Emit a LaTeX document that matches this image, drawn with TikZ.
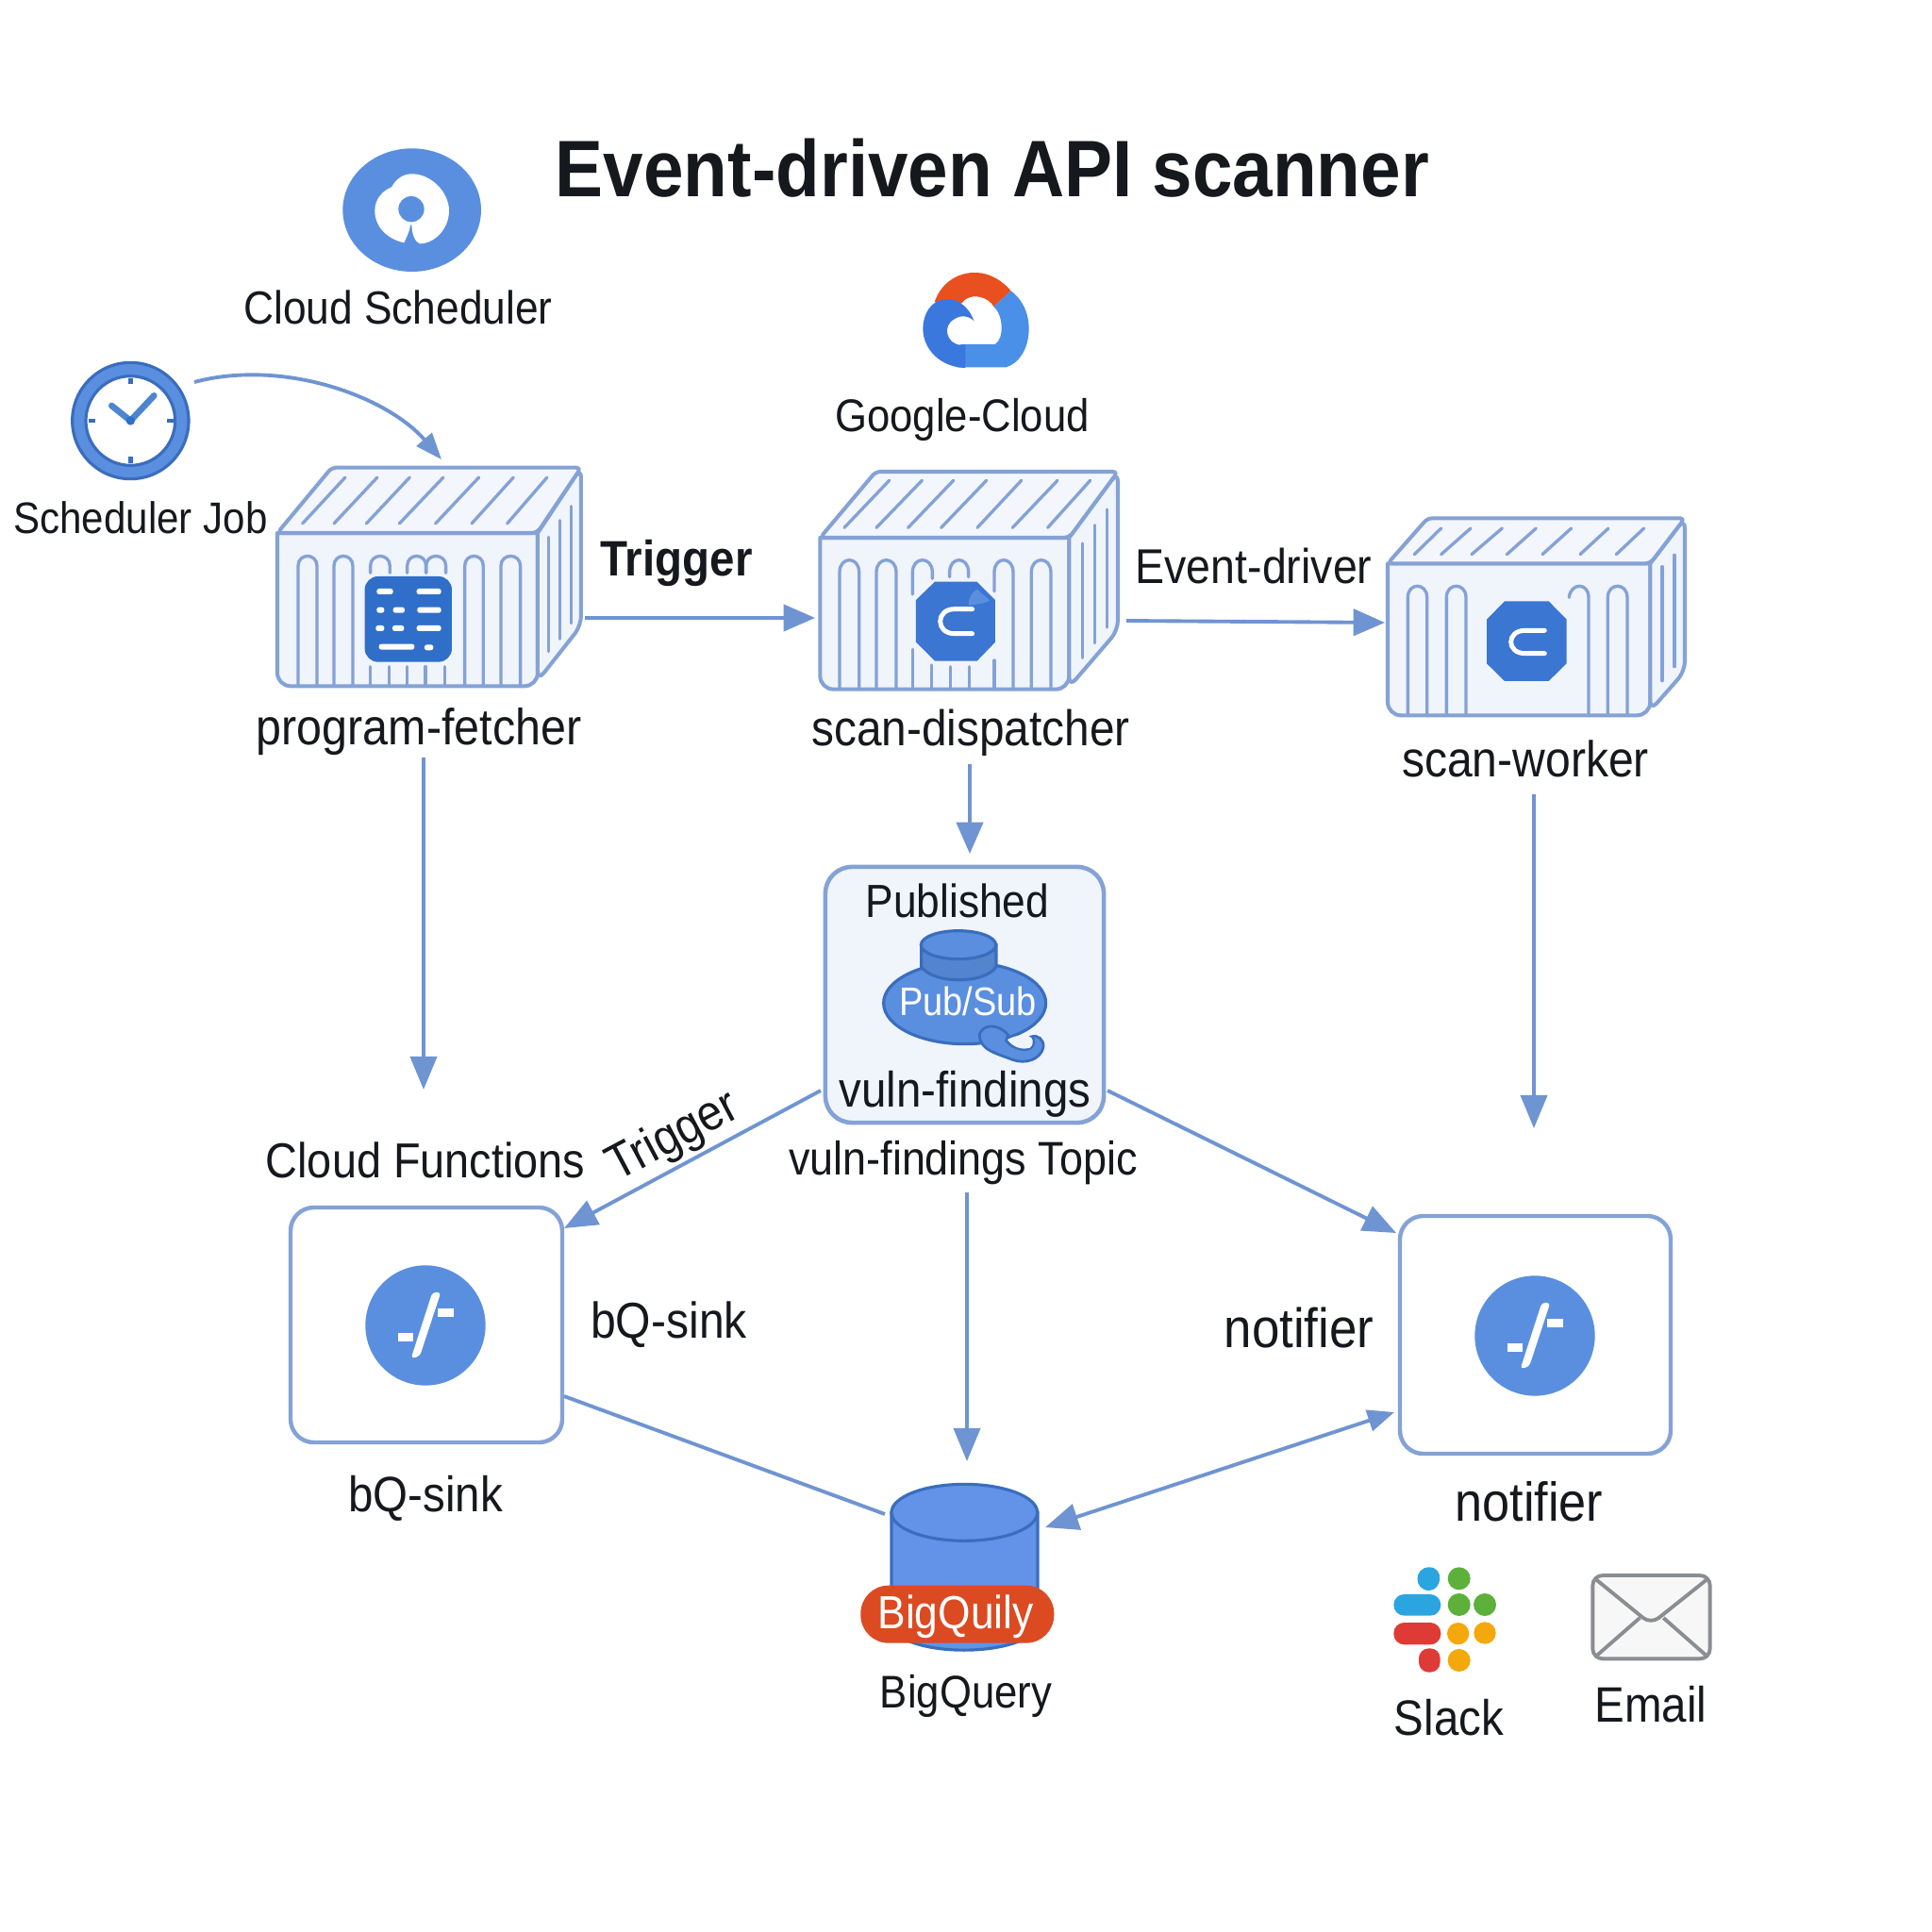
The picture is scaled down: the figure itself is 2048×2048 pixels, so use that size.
\documentclass[tikz,border=0pt]{standalone}
\usepackage{fontspec}
\setmainfont[FakeStretch=0.9]{Liberation Sans}
\usetikzlibrary{arrows.meta}
\definecolor{edge}{HTML}{84A2D6}
\definecolor{arrowc}{HTML}{6F94D2}
\definecolor{paneb}{HTML}{F0F4FB}
\definecolor{topb}{HTML}{F3F6FC}
\definecolor{iconb}{HTML}{2F6FC9}
\definecolor{octb}{HTML}{3A76D2}
\definecolor{midb}{HTML}{5A8FE0}
\definecolor{cylb}{HTML}{6293E8}
\definecolor{darkb}{HTML}{3A6DBD}
\definecolor{gblue}{HTML}{3B78DD}
\definecolor{glight}{HTML}{4A8FE8}
\definecolor{gred}{HTML}{E8501F}
\definecolor{pill}{HTML}{DC4A22}
\definecolor{txtc}{HTML}{15181C}
\definecolor{sblue}{HTML}{2AA5E0}
\definecolor{sgreen}{HTML}{5DB03A}
\definecolor{sred}{HTML}{DF3B36}
\definecolor{sorange}{HTML}{F5A80C}
\definecolor{mailg}{HTML}{8A8D91}
\newcommand{\fsz}[1]{\fontsize{#1}{#1}\selectfont}
\tikzset{
  boxline/.style={draw=edge,line width=1.15pt,line join=round},
  thinl/.style={draw=edge,line width=0.95pt,line cap=round},
  conn/.style={draw=arrowc,line width=1.1pt,-{Triangle[length=10pt,width=8pt]}},
  connh/.style={draw=arrowc,line width=1.1pt,-{Triangle[length=9.5pt,width=8pt]}},
  connc/.style={draw=arrowc,line width=1.1pt,-{Triangle[length=8pt,width=6pt]}},
  lbl/.style={inner sep=0pt,text=txtc,font=\fsz{15}},
  cardbox/.style={draw=edge,line width=1.25pt,fill=white,rounded corners=7pt},
  pubbox/.style={draw=edge,line width=1.3pt,fill=paneb,rounded corners=8pt,minimum width=2.95cm,minimum height=2.71cm,inner sep=0pt}
}
\begin{document}
\begin{tikzpicture}[x=0.01cm,y=-0.01cm]
\useasboundingbox (0,0) rectangle (2048,2048);
\fill[white] (0,0) rectangle (2048,2048);

% title
\node[lbl,font=\fsz{24.15}\bfseries] (title) at (1052,178) {Event-driven API scanner};

% cloud scheduler icon
\begin{scope}[shift={(340,140)},scale=0.3333]
  \fill[midb] (290,248) ellipse [x radius=220,y radius=196];
  \fill[white] (265,352) .. controls (210,340) and (172,300) .. (172,250) .. controls (172,210) and (200,185) .. (225,175) .. controls (240,150) and (260,133) .. (290,133) .. controls (350,133) and (408,190) .. (408,250) .. controls (408,310) and (360,355) .. (315,355) .. controls (300,350) and (290,325) .. (289,295) -- (285,295) .. controls (282,320) and (272,335) .. (265,352) -- cycle;
  \fill[midb] (288,245) circle [radius=41];
\end{scope}
\node[lbl,font=\fsz{14}] (cloudsched) at (422,326) {Cloud Scheduler};

% google cloud icon
\begin{scope}[shift={(960,270)},scale=0.3333]
  \fill[gred] (92,150) .. controls (115,85) and (170,55) .. (225,57) .. controls (270,58) and (310,85) .. (335,115) -- (280,165) .. controls (265,135) and (205,115) .. (178,155) -- cycle;
  \fill[glight] (335,115) .. controls (375,145) and (392,190) .. (392,235) .. controls (392,300) and (360,345) .. (320,358) -- (165,358) -- (175,285) -- (285,285) .. controls (315,265) and (310,190) .. (280,165) -- cycle;
  \fill[gblue] (218,212) .. controls (195,150) and (150,138) .. (125,142) .. controls (80,145) and (55,190) .. (55,235) .. controls (55,300) and (110,358) .. (190,360) -- (190,285) -- (175,287) .. controls (130,285) and (115,225) .. (155,205) .. controls (175,190) and (205,195) .. (218,212) -- cycle;
\end{scope}
\node[lbl,font=\fsz{13.8}] (gcloud) at (1020,445) {Google-Cloud};

% clock
\begin{scope}[shift={(60,370)},scale=0.3333]
  \draw[draw=darkb,line width=0.9pt,fill=midb] (235,228) circle [radius=185];
  \draw[draw=darkb,line width=0.9pt,fill=white] (235,228) circle [radius=142];
  \draw[draw=darkb,line width=1.3pt] (235,92) -- (235,112) (235,342) -- (235,362) (102,228) -- (124,228) (352,228) -- (374,228);
  \draw[draw=iconb!85!white,line width=1.9pt,line cap=round,line join=round] (175,180) -- (235,228) -- (310,148);
  \fill[iconb] (235,228) circle [radius=14];
\end{scope}
\coordinate (clockE) at (206,405);
\node[lbl,font=\fsz{13.3}] (schedjob) at (149,549) {Scheduler Job};

% container 1
\begin{scope}[shift={(280,480)},scale=0.3333]
  \draw[boxline,fill=paneb] (42,255) {[rounded corners=4pt] -- (42,742) -- (870,742) -- (870,500)} -- (870,255) -- cycle;
  \draw[boxline,fill=paneb] (870,255) {[rounded corners=3pt] -- (1008,47) -- (1008,550) -- (870,725)} -- cycle;
  \draw[boxline,fill=topb,rounded corners=1.4pt] (42,255) -- (215,47) -- (1008,47) -- (868,255) -- cycle;
  \foreach \a/\b in {122/258,222/360,325/463,430/570,545/683,660/793,773/900}
    \draw[thinl] (\a,225) -- (\b,78);
  \draw[thinl] (905,268) -- (905,632);
  \draw[thinl] (940,215) -- (940,592);
  \draw[thinl] (977,170) -- (977,542);
  \foreach \a/\b in {108/168,222/282,638/697,753/815}
    \draw[thinl] (\a,738) -- (\a,360) .. controls (\a,318) and (\b,318) .. (\b,360) -- (\b,738);
  \foreach \a/\b in {338/400,455/515,515/578}
    \draw[thinl] (\a,382) -- (\a,360) .. controls (\a,318) and (\b,318) .. (\b,360) -- (\b,382);
  \foreach \a in {338,398,455,513,575}
    \draw[thinl] (\a,680) -- (\a,738);
  \fill[iconb,rounded corners=4pt] (320,393) rectangle (597,665);
  \foreach \a/\b/\y in {358/410/441,485/563/441,358/382/500,410/447/500,487/563/500,355/382/558,408/445/558,485/563/558,365/478/617,510/538/619}
    \fill[white,rounded corners=0.7pt] (\a,\y-9) rectangle (\b,\y+9);
\end{scope}
\coordinate (fetcherN) at (468,487);
\coordinate (fetcherE) at (620,655);
\coordinate (fetcherS) at (449,803);

% container 2
\begin{scope}[shift={(860,490)},scale=0.3333]
  \draw[boxline,fill=paneb] (28,240) {[rounded corners=4pt] -- (28,722) -- (820,722) -- (820,500)} -- (820,240) -- cycle;
  \draw[boxline,fill=paneb] (820,240) {[rounded corners=3pt] -- (975,30) -- (975,535) -- (820,715)} -- cycle;
  \draw[boxline,fill=topb,rounded corners=1.4pt] (28,240) -- (205,30) -- (975,30) -- (820,240) -- cycle;
  \foreach \a/\b/\c in {105/208/248,207/208/352,308/208/452,413/208/557,528/208/668,640/208/783,752/208/887}
    \draw[thinl] (\a,\b) -- (\c,58);
  \draw[thinl] (863,258) -- (863,622);
  \draw[thinl] (902,200) -- (902,575);
  \draw[thinl] (940,150) -- (940,525);
  \foreach \a/\b in {90/152,207/270,700/762}
    \draw[thinl] (\a,718) -- (\a,350) .. controls (\a,298) and (\b,298) .. (\b,350) -- (\b,718);
  \draw[thinl] (322,420) -- (322,350) .. controls (322,298) and (385,298) .. (385,350) -- (385,370);
  \draw[thinl] (440,365) -- (440,350) .. controls (440,298) and (500,298) .. (500,350) -- (500,365);
  \draw[thinl] (582,410) -- (582,350) .. controls (582,298) and (642,298) .. (642,350) -- (642,718);
  \foreach \a/\s in {322/595,382/645,442/650,502/650,582/630}
    \draw[thinl] (\a,\s) -- (\a,718);
  \fill[octb] (393,380) -- (527,380) -- (585,438) -- (585,572) -- (527,632) -- (393,632) -- (333,572) -- (333,438) -- cycle;
  \fill[midb] (527,404) -- (568,440) .. controls (560,445) and (520,455) .. (500,455) .. controls (500,430) and (510,415) .. (527,404) -- cycle;
  \draw[white,line width=1.4pt,line cap=round] (512,467) -- (455,467) .. controls (395,467) and (395,545) .. (455,545) -- (512,545);
\end{scope}
\coordinate (dispW) at (864,655);
\coordinate (dispE) at (1194,658);
\coordinate (dispS) at (1028,810);

% container 3
\begin{scope}[shift={(1460,540)},scale=0.3333]
  \draw[boxline,fill=paneb] (33,172) {[rounded corners=4pt] -- (33,655) -- (868,655) -- (868,450)} -- (868,172) -- cycle;
  \draw[boxline,fill=paneb] (868,172) {[rounded corners=3pt] -- (978,28) -- (978,515) -- (868,640)} -- cycle;
  \draw[boxline,fill=topb,rounded corners=1.4pt] (33,172) -- (160,28) -- (978,28) -- (868,172) -- cycle;
  \foreach \a/\b in {118/203,203/297,300/397,412/505,525/617,645/735,760/848}
    \draw[thinl] (\a,143) -- (\b,60);
  \draw[thinl] (906,182) -- (906,545);
  \draw[thinl] (945,145) -- (945,500);
  \foreach \a/\b in {97/158,220/282,733/795}
    \draw[thinl] (\a,650) -- (\a,280) .. controls (\a,232) and (\b,232) .. (\b,280) -- (\b,650);
  \draw[thinl] (610,280) .. controls (615,232) and (672,232) .. (672,280) -- (672,650);
  \fill[octb] (405,292) -- (545,292) -- (602,350) -- (602,490) -- (545,546) -- (405,546) -- (348,490) -- (348,350) -- cycle;
  \draw[white,line width=1.4pt,line cap=round] (532,385) -- (470,385) .. controls (410,385) and (410,458) .. (470,458) -- (532,458);
\end{scope}
\coordinate (workerW) at (1468,660);
\coordinate (workerS) at (1626,842);

% container labels
\node[lbl,font=\fsz{15.3}] (fetcherl) at (444,776) {program-fetcher};
\node[lbl,font=\fsz{15.1}] (displ) at (1029,777) {scan-dispatcher};
\node[lbl,font=\fsz{15.2}] (workerl) at (1617,804) {scan-worker};

% pub/sub
\node[pubbox] (pub) at (1022.5,1054.5) {};
\begin{scope}[shift={(850,900)},scale=0.3333]
  \draw[draw=darkb,line width=0.9pt,fill=midb] (518,490) ellipse [x radius=258,y radius=130];
  \draw[draw=darkb,line width=0.9pt,fill=midb!92!black] (380,305) -- (380,375) .. controls (420,430) and (580,430) .. (618,375) -- (618,305) -- cycle;
  \draw[draw=darkb,line width=0.9pt,fill=midb] (498,305) ellipse [x radius=119,y radius=45];
  \draw[draw=darkb,line width=0.8pt,fill=midb] (565,590) .. controls (575,555) and (625,555) .. (655,590) -- (650,610) .. controls (670,635) and (720,650) .. (735,625) .. controls (740,610) and (735,600) .. (730,597) .. controls (750,590) and (770,605) .. (768,630) .. controls (760,670) and (710,685) .. (670,670) .. controls (620,650) and (565,640) .. (565,590) -- cycle;
  \fill[paneb] (655,606) .. controls (680,590) and (715,590) .. (730,600) .. controls (738,610) and (735,625) .. (725,632) .. controls (700,640) and (670,630) .. (655,606) -- cycle;
\end{scope}
\node[lbl,font=\fsz{14}] (publ) at (1015,955) {Published};
\node[lbl,text=white,font=\fsz{12}] (pubsubl) at (1026,1061) {Pub/Sub};
\node[lbl,font=\fsz{15}] (vulnl) at (1023,1160) {vuln-findings};
\node[lbl,font=\fsz{14.2}] (vulnt) at (1021,1233) {vuln-findings Topic};
\coordinate (pubS) at (1028,905);
\coordinate (pubW) at (870,1156);
\coordinate (pubE) at (1174,1156);
\coordinate (pubB) at (1025,1264);

% function boxes
\draw[cardbox] (308,1280) rectangle (596,1529);
\draw[cardbox] (1484,1289) rectangle (1771,1541);
\foreach \sx/\sy in {370/1319.3,1546/1330.3}{
  \begin{scope}[shift={(\sx,\sy)},scale=0.3333]
    \fill[midb] (243,257) circle [radius=191];
    \fill[white,rounded corners=1pt] (265,152) -- (292,152) -- (225,355) -- (197,362) -- cycle;
    \fill[white] (155,280) rectangle (205,307);
    \fill[white] (283,203) rectangle (332,230);
  \end{scope}
}
\coordinate (sinkNE) at (598,1302);
\coordinate (sinkE) at (598,1480);
\coordinate (notifNW) at (1480,1307);
\coordinate (notifW) at (1478,1497);
\coordinate (fnIn) at (449,1155);
\coordinate (notifIn) at (1626,1196);
\node[lbl,font=\fsz{14.8}] (cfl) at (451,1230) {Cloud Functions};
\node[lbl,rotate=28,font=\fsz{15}] (trig2) at (714,1206) {Trigger};
\node[lbl,font=\fsz{15.2}] (sinka) at (709,1404) {bQ-sink};
\node[lbl,font=\fsz{16.7}] (notifa) at (1377,1407) {notifier};
\node[lbl,font=\fsz{15}] (sinkb) at (451,1588) {bQ-sink};
\node[lbl,font=\fsz{16.5}] (notifb) at (1621,1592) {notifier};

% bigquery
\begin{scope}[shift={(900,1560)},scale=0.3333]
  \draw[draw=darkb,line width=0.9pt,fill=cylb] (135,130) -- (135,500) .. controls (200,590) and (530,590) .. (600,500) -- (600,130) -- cycle;
  \draw[draw=darkb,line width=0.9pt,fill=cylb] (367,130) ellipse [x radius=232,y radius=90];
  \fill[pill,rounded corners=8.4pt] (37,362) rectangle (652,545);
\end{scope}
\node[lbl,text=white,font=\fsz{14}] (bqpill) at (1013,1714) {BigQuily};
\node[lbl,font=\fsz{13.8}] (bql) at (1024,1798) {BigQuery};
\coordinate (bqW) at (938,1605);
\coordinate (bqE) at (1108,1619);
\coordinate (bqN) at (1025,1549);

% slack
\begin{scope}[shift={(1450,1640)},scale=0.3333]
  \fill[sblue] (195,64) .. controls (245,64) and (235,138) .. (195,138) .. controls (145,138) and (145,64) .. (195,64) -- cycle;
  \fill[sblue,rounded corners=3.2pt] (82,150) rectangle (232,218);
  \fill[sgreen] (290,100) circle [radius=36] (290,183) circle [radius=36] (372,183) circle [radius=36];
  \fill[sred,rounded corners=3.2pt] (82,240) rectangle (232,310);
  \fill[sred,rounded corners=3pt] (162,322) rectangle (230,398);
  \fill[sorange] (287,275) circle [radius=35] (372,273) circle [radius=35] (290,360) circle [radius=36];
\end{scope}
\node[lbl] (slackl) at (1536,1821) {Slack};

% email
\begin{scope}[shift={(1450,1640)},scale=0.3333]
  \draw[draw=mailg,line width=1.1pt,fill=black!3,rounded corners=3pt] (715,90) rectangle (1088,355);
  \draw[draw=mailg,line width=1.1pt,rounded corners=3pt] (722,100) -- (900,245) -- (1082,100);
  \draw[draw=mailg,line width=1.1pt] (722,350) -- (865,225) (1082,350) -- (940,225);
\end{scope}
\node[lbl] (emaill) at (1750,1807) {Email};

% edge labels
\node[lbl,font=\fsz{15}\bfseries] (trig1) at (717,597) {Trigger};
\node[lbl,font=\fsz{14.7}] (evdrv) at (1329,600) {Event-driver};

% connectors
\draw[connc] (clockE) .. controls (300,380) and (410,420) .. (fetcherN);
\draw[connh] (fetcherE) -- (dispW);
\draw[connh] (dispE) -- (workerW);
\draw[conn] (fetcherS) -- (fnIn);
\draw[connh] (dispS) -- (pubS);
\draw[conn] (workerS) -- (notifIn);
\draw[conn] (pubW) -- (sinkNE);
\draw[conn] (pubE) -- (notifNW);
\draw[conn] (pubB) -- (bqN);
\draw[draw=arrowc,line width=1.1pt] (sinkE) -- (bqW);
\draw[draw=arrowc,line width=1.1pt,{Triangle[length=10pt,width=8pt]}-{Triangle[length=8pt,width=6.5pt]}] (bqE) -- (notifW);
\end{tikzpicture}
\end{document}
